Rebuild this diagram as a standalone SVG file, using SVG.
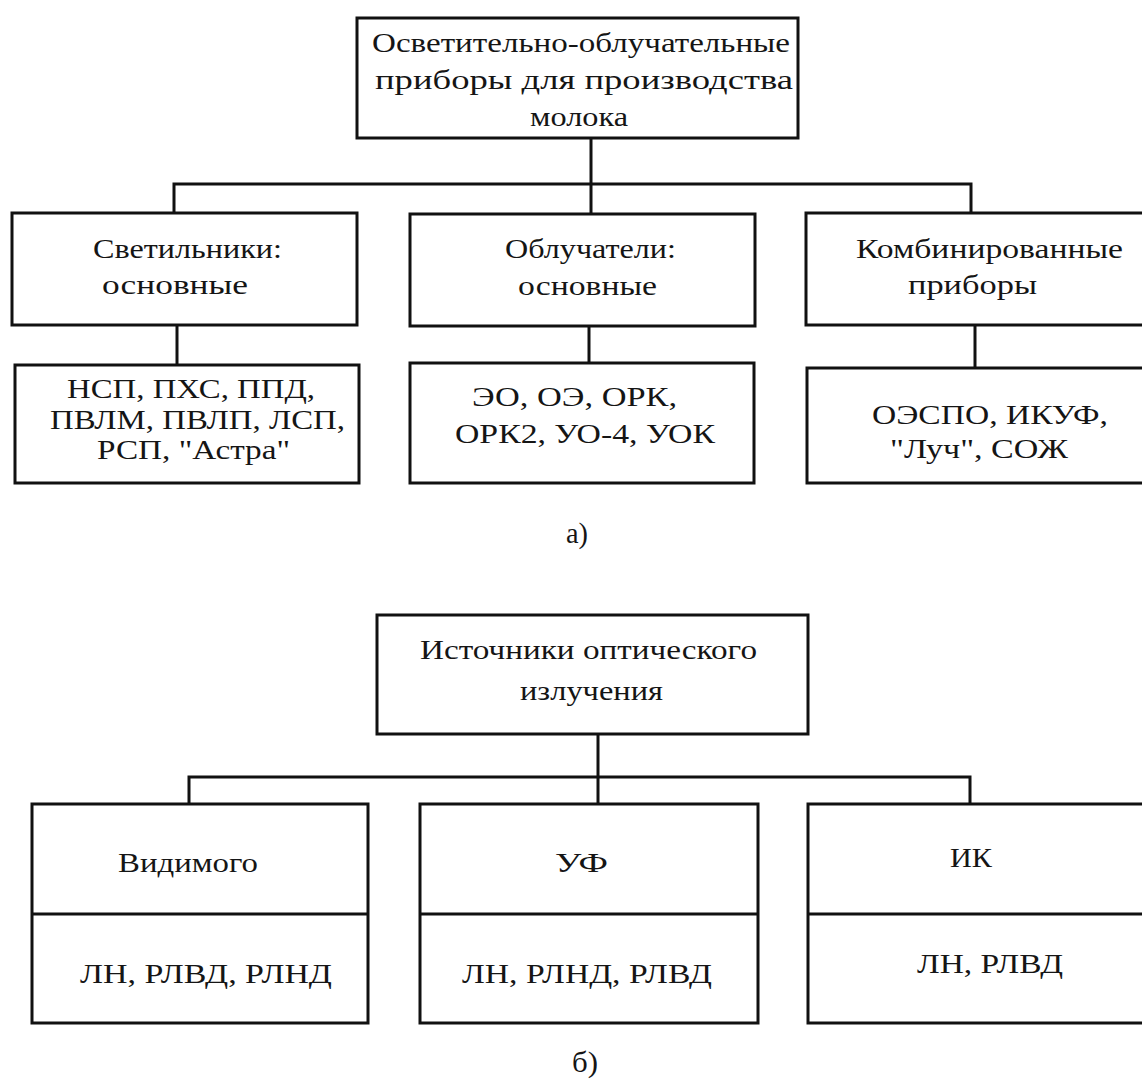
<svg xmlns="http://www.w3.org/2000/svg" width="1142" height="1079" viewBox="0 0 1142 1079">
  <style>
    .box { fill: #ffffff; stroke: #111111; stroke-width: 3; }
    .div { stroke: #111111; stroke-width: 3; }
    .wire { fill: none; stroke: #111111; stroke-width: 3; }
    text { font-family: "Liberation Serif", "Times New Roman", serif; font-size: 27px; fill: #151515; }
    .cap { font-size: 30px; }
  </style>
  <rect width="1142" height="1079" fill="#ffffff"/>

  <!-- connectors -->
  <g id="connectors">
    <path class="wire" d="M591,138 V184"/>
    <path class="wire" d="M174,213 V184 H971 V213"/>
    <path class="wire" d="M591,184 V214"/>
    <path class="wire" d="M177,325 V365"/>
    <path class="wire" d="M589,326 V363"/>
    <path class="wire" d="M975,325 V368"/>
    <path class="wire" d="M598,734 V778"/>
    <path class="wire" d="M189,804 V777 H970 V804"/>
    <path class="wire" d="M598,777 V804"/>
  </g>

  <!-- part a -->
  <g id="root-a">
    <rect class="box" x="357" y="18" width="441" height="120"/>
    <text x="372" y="52" textLength="418" lengthAdjust="spacingAndGlyphs">Осветительно-облучательные</text>
    <text x="375" y="89" textLength="418" lengthAdjust="spacingAndGlyphs">приборы  для  производства</text>
    <text x="530" y="126" textLength="98" lengthAdjust="spacingAndGlyphs">молока</text>
  </g>

  <g id="svetilniki">
    <rect class="box" x="12" y="213" width="345" height="112"/>
    <text x="93" y="258" textLength="189" lengthAdjust="spacingAndGlyphs">Светильники:</text>
    <text x="102" y="294" textLength="146" lengthAdjust="spacingAndGlyphs">основные</text>
  </g>
  <g id="svetilniki-list">
    <rect class="box" x="15" y="365" width="344" height="118"/>
    <text x="67" y="398" textLength="248" lengthAdjust="spacingAndGlyphs">НСП, ПХС, ППД,</text>
    <text x="50" y="429" textLength="295" lengthAdjust="spacingAndGlyphs">ПВЛМ, ПВЛП, ЛСП,</text>
    <text x="97" y="459" textLength="193" lengthAdjust="spacingAndGlyphs">РСП, "Астра"</text>
  </g>

  <g id="obluchateli">
    <rect class="box" x="410" y="214" width="345" height="112"/>
    <text x="505" y="258" textLength="171" lengthAdjust="spacingAndGlyphs">Облучатели:</text>
    <text x="518" y="295" textLength="139" lengthAdjust="spacingAndGlyphs">основные</text>
  </g>
  <g id="obluchateli-list">
    <rect class="box" x="410" y="363" width="344" height="120"/>
    <text x="472" y="406" textLength="205" lengthAdjust="spacingAndGlyphs">ЭО, ОЭ, ОРК,</text>
    <text x="455" y="443" textLength="260" lengthAdjust="spacingAndGlyphs">ОРК2, УО-4, УОК</text>
  </g>

  <g id="kombi">
    <rect class="box" x="806" y="213" width="340" height="112"/>
    <text x="856" y="258" textLength="267" lengthAdjust="spacingAndGlyphs">Комбинированные</text>
    <text x="908" y="294" textLength="129" lengthAdjust="spacingAndGlyphs">приборы</text>
  </g>
  <g id="kombi-list">
    <rect class="box" x="807" y="368" width="339" height="115"/>
    <text x="872" y="424" textLength="236" lengthAdjust="spacingAndGlyphs">ОЭСПО, ИКУФ,</text>
    <text x="890" y="458" textLength="178" lengthAdjust="spacingAndGlyphs">"Луч", СОЖ</text>
  </g>

  <g id="caption-a">
    <text class="cap" x="566" y="543" textLength="22" lengthAdjust="spacingAndGlyphs">а)</text>
  </g>

  <!-- part b -->
  <g id="root-b">
    <rect class="box" x="377" y="615" width="431" height="119"/>
    <text x="420" y="659" textLength="337" lengthAdjust="spacingAndGlyphs">Источники оптического</text>
    <text x="520" y="700" textLength="143" lengthAdjust="spacingAndGlyphs">излучения</text>
  </g>

  <g id="visible">
    <rect class="box" x="32" y="804" width="336" height="219"/>
    <line class="div" x1="32" y1="914" x2="368" y2="914"/>
    <text x="118" y="872" textLength="140" lengthAdjust="spacingAndGlyphs">Видимого</text>
    <text x="80" y="983" textLength="252" lengthAdjust="spacingAndGlyphs">ЛН, РЛВД, РЛНД</text>
  </g>

  <g id="uv">
    <rect class="box" x="420" y="804" width="338" height="219"/>
    <line class="div" x1="420" y1="914" x2="758" y2="914"/>
    <text x="555" y="872" textLength="53" lengthAdjust="spacingAndGlyphs">УФ</text>
    <text x="462" y="983" textLength="250" lengthAdjust="spacingAndGlyphs">ЛН, РЛНД, РЛВД</text>
  </g>

  <g id="ir">
    <rect class="box" x="808" y="804" width="338" height="219"/>
    <line class="div" x1="808" y1="914" x2="1146" y2="914"/>
    <text x="950" y="867" textLength="42" lengthAdjust="spacingAndGlyphs">ИК</text>
    <text x="917" y="973" textLength="146" lengthAdjust="spacingAndGlyphs">ЛН, РЛВД</text>
  </g>

  <g id="caption-b">
    <text class="cap" x="572" y="1072" textLength="26" lengthAdjust="spacingAndGlyphs">б)</text>
  </g>
</svg>
